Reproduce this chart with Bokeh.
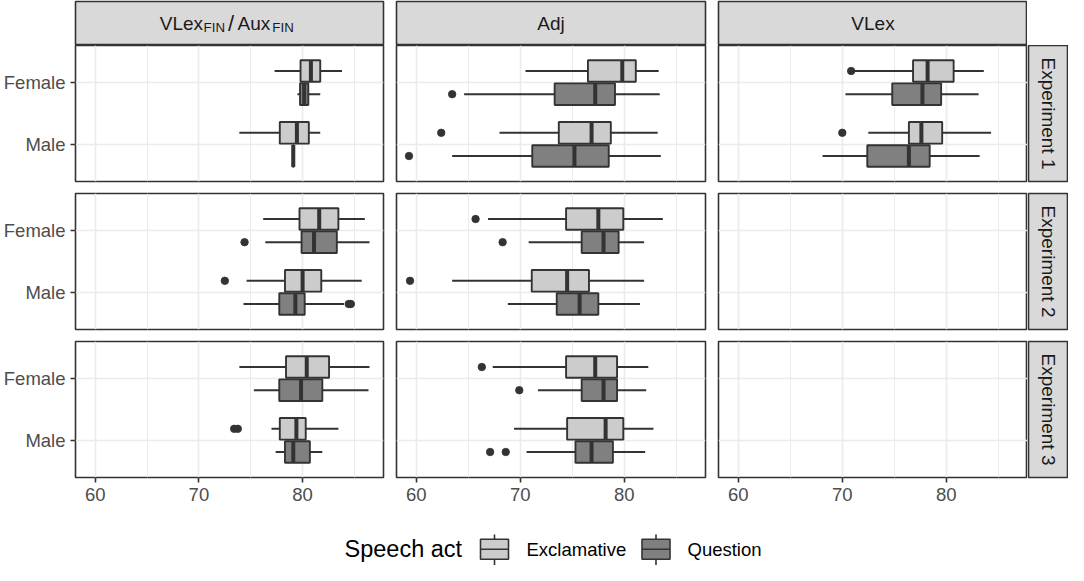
import math
from bokeh.plotting import figure
from bokeh.layouts import column
from bokeh.models import (Range1d, FactorRange, FixedTicker, CategoricalTicker,
                          ColumnDataSource, GridBox)
from bokeh.transform import dodge
from bokeh.core.properties import value
from bokeh.embed import file_html
from bokeh.resources import INLINE

# ---------------- data ----------------
conditions = ["VLexFIN/AuxFIN", "Adj", "VLex"]
experiments = ["Experiment 1", "Experiment 2", "Experiment 3"]
sexes = ["Female", "Male"]
acts = ["Exclamative", "Question"]
x_ticks = [60, 70, 80]
x_minor_ticks = [65, 75, 85]

box_condition = (["VLexFIN/AuxFIN"] * 4 + ["Adj"] * 4 + ["VLex"] * 4 +
                 ["VLexFIN/AuxFIN"] * 4 + ["Adj"] * 4 +
                 ["VLexFIN/AuxFIN"] * 4 + ["Adj"] * 4)
box_experiment = (["Experiment 1"] * 12 + ["Experiment 2"] * 8 + ["Experiment 3"] * 8)
box_sex = ["Female", "Female", "Male", "Male"] * 7
box_act = ["Exclamative", "Question"] * 14
box_lower = [77.3, 79.5, 73.9, 79.05,
             70.5, 64.6, 68.0, 63.45,
             71.0, 70.3, 72.5, 68.1,
             76.2, 76.4, 74.6, 74.3,
             66.9, 70.8, 63.45, 68.8,
             73.9, 75.3, 77.0, 77.4,
             67.35, 71.7, 69.4, 70.6]
box_q1 = [79.8, 79.75, 77.8, 79.05,
          76.5, 73.3, 73.7, 71.15,
          76.8, 74.8, 76.4, 72.4,
          79.7, 79.9, 78.3, 77.75,
          74.4, 75.9, 71.1, 73.5,
          78.4, 77.75, 77.8, 78.3,
          74.4, 75.9, 74.5, 75.3]
box_median = [80.8, 80.15, 79.45, 79.1,
              79.8, 77.2, 76.85, 75.2,
              78.2, 77.7, 77.6, 76.4,
              81.6, 81.1, 80.0, 79.3,
              77.5, 78.0, 74.5, 75.7,
              80.4, 79.85, 79.4, 79.1,
              77.2, 78.0, 78.2, 76.85]
box_q3 = [81.7, 80.55, 80.6, 79.15,
          81.1, 79.1, 78.7, 78.5,
          80.7, 79.5, 79.6, 78.4,
          83.45, 83.3, 81.8, 80.2,
          79.9, 79.45, 76.6, 77.5,
          82.55, 81.9, 80.3, 80.7,
          79.3, 79.3, 79.9, 78.9]
box_upper = [83.8, 81.7, 81.7, 79.15,
             83.3, 83.4, 83.2, 83.5,
             83.6, 83.1, 84.3, 83.2,
             86.0, 86.45, 85.7, 84.0,
             83.7, 81.9, 81.9, 81.5,
             86.45, 86.35, 83.45, 81.9,
             82.3, 82.1, 82.8, 82.0]

out_condition = ["Adj", "Adj", "Adj", "VLex", "VLex",
                 "VLexFIN/AuxFIN", "VLexFIN/AuxFIN", "VLexFIN/AuxFIN", "VLexFIN/AuxFIN",
                 "Adj", "Adj", "Adj",
                 "VLexFIN/AuxFIN", "VLexFIN/AuxFIN", "Adj", "Adj", "Adj", "Adj"]
out_experiment = ["Experiment 1"] * 5 + ["Experiment 2"] * 7 + ["Experiment 3"] * 6
out_sex = ["Female", "Male", "Male", "Female", "Male",
           "Female", "Male", "Male", "Male",
           "Female", "Female", "Male",
           "Male", "Male", "Female", "Female", "Male", "Male"]
out_act = ["Question", "Exclamative", "Question", "Exclamative", "Exclamative",
           "Question", "Exclamative", "Question", "Question",
           "Exclamative", "Question", "Exclamative",
           "Exclamative", "Exclamative", "Exclamative", "Question", "Question", "Question"]
out_value = [63.45, 62.4, 59.3, 70.85, 70.0,
             74.4, 72.5, 84.45, 84.65,
             65.7, 68.3, 59.4,
             73.4, 73.75, 66.3, 69.9, 67.1, 68.6]

# ---------------- style ----------------
FONT = "Liberation Sans"
FILL = {"Exclamative": "#cccccc", "Question": "#808080"}
OFFSET = {"Exclamative": 0.1875, "Question": -0.1875}
EDGE = "#333333"
GRID = "#ebebeb"
X0, X1 = 58.1, 87.8

col_w = [389, 322, 316, 41]
col_bl = [74, 7, 7, 1]
col_br = [6, 6, 0, 1]
row_h = [142, 148, 176]
row_bt = [0, 6, 6]
row_bb = [6, 6, 34]
STRIP_H = 45
LEG_H = 54
TOTAL_W = sum(col_w)


def base_fig(width, height, bl, br, bt, bb, xr, yr, xloc=None, yloc=None):
    p = figure(width=width, height=height, x_range=xr, y_range=yr,
               x_axis_location=xloc, y_axis_location=yloc,
               output_backend="svg", toolbar_location=None, tools="",
               min_border_left=bl, min_border_right=br,
               min_border_top=bt, min_border_bottom=bb)
    p.background_fill_color = "white"
    p.border_fill_color = "white"
    return p


def make_panel(ci, ei):
    cond = conditions[ci]
    exp = experiments[ei]
    yr = FactorRange(factors=["Male", "Female"], range_padding=0.1,
                     range_padding_units="absolute")
    p = base_fig(col_w[ci], row_h[ei], col_bl[ci], col_br[ci], row_bt[ei], row_bb[ei],
                 Range1d(X0, X1), yr,
                 xloc="below" if ei == 2 else None,
                 yloc="left" if ci == 0 else None)
    p.outline_line_color = EDGE
    p.outline_line_width = 1.6
    p.xgrid.ticker = FixedTicker(ticks=x_ticks, minor_ticks=x_minor_ticks)
    p.xgrid.grid_line_color = GRID
    p.xgrid.grid_line_width = 1.6
    p.xgrid.minor_grid_line_color = GRID
    p.xgrid.minor_grid_line_width = 1.0
    p.ygrid.ticker = CategoricalTicker()
    p.ygrid.grid_line_color = GRID
    p.ygrid.grid_line_width = 1.6
    for ax in list(p.xaxis) + list(p.yaxis):
        ax.axis_line_color = None
        ax.major_label_text_font = FONT
        ax.major_label_text_font_size = "18.5px"
        ax.major_label_text_color = "#4d4d4d"
        ax.major_tick_line_color = EDGE
        ax.major_tick_line_width = 1.6
        ax.major_tick_out = 5
        ax.major_tick_in = 0
        ax.minor_tick_out = 0
        ax.minor_tick_in = 0
        ax.major_label_standoff = 5
    if ei == 2:
        p.xaxis.ticker = FixedTicker(ticks=x_ticks)

    for act in acts:
        off = OFFSET[act]
        idx = [i for i in range(len(box_condition))
               if box_condition[i] == cond and box_experiment[i] == exp and box_act[i] == act]
        if idx:
            src = ColumnDataSource(dict(
                sex=[box_sex[i] for i in idx],
                lo=[box_lower[i] for i in idx],
                q1=[box_q1[i] for i in idx],
                med=[box_median[i] for i in idx],
                q3=[box_q3[i] for i in idx],
                hi=[box_upper[i] for i in idx],
            ))
            yc = dodge("sex", off, range=yr)
            p.segment(x0="lo", x1="q1", y0=yc, y1=yc, line_color=EDGE,
                      line_width=1.9, source=src)
            p.segment(x0="q3", x1="hi", y0=yc, y1=yc, line_color=EDGE,
                      line_width=1.9, source=src)
            p.hbar(y=yc, height=0.35, left="q1", right="q3", fill_color=FILL[act],
                   line_color=EDGE, line_width=1.9, source=src)
            p.segment(x0="med", x1="med",
                      y0=dodge("sex", off - 0.175, range=yr),
                      y1=dodge("sex", off + 0.175, range=yr),
                      line_color=EDGE, line_width=4, source=src)
        oidx = [i for i in range(len(out_condition))
                if out_condition[i] == cond and out_experiment[i] == exp and out_act[i] == act]
        if oidx:
            osrc = ColumnDataSource(dict(
                sex=[out_sex[i] for i in oidx],
                v=[out_value[i] for i in oidx],
            ))
            p.scatter(x="v", y=dodge("sex", off, range=yr), size=7.5, marker="circle",
                      fill_color=EDGE, line_color=EDGE, line_width=0.8, source=osrc)
    return p


def strip_fig(width, height, bl, br, bt, bb, xr, yr):
    s = base_fig(width, height, bl, br, bt, bb, xr, yr)
    s.grid.visible = False
    s.background_fill_color = "#d9d9d9"
    s.outline_line_color = EDGE
    s.outline_line_width = 1.6
    return s


children = []

# top strips
for ci, cond in enumerate(conditions):
    fw = col_w[ci] - col_bl[ci] - col_br[ci]
    fh = STRIP_H - 1
    s = strip_fig(col_w[ci], STRIP_H, col_bl[ci], col_br[ci], 1, 0,
                  Range1d(0, fw), Range1d(0, fh))
    cx = fw / 2
    cy = fh / 2
    if cond == "VLexFIN/AuxFIN":
        s.text(x=[cx - 70, cx + 8], y=[cy, cy], text=["VLex", "Aux"],
               text_font=value(FONT), text_font_size="19px", text_color="#1a1a1a",
               text_align="left", text_baseline="middle")
        s.text(x=[cx + 1.5], y=[cy], text=["/"],
               text_font=value(FONT), text_font_size="22px", text_color="#1a1a1a",
               text_align="center", text_baseline="middle")
        s.text(x=[cx - 26, cx + 43], y=[cy - 4, cy - 4], text=["FIN", "FIN"],
               text_font=value(FONT), text_font_size="13.3px", text_color="#1a1a1a",
               text_align="left", text_baseline="middle")
    else:
        s.text(x=[cx], y=[cy], text=[cond], text_font=value(FONT),
               text_font_size="19px", text_color="#1a1a1a",
               text_align="center", text_baseline="middle")
    children.append((s, 0, ci))

# panels and right strips
for ei, exp in enumerate(experiments):
    for ci in range(3):
        children.append((make_panel(ci, ei), ei + 1, ci))
    r = strip_fig(col_w[3], row_h[ei], col_bl[3], col_br[3], row_bt[ei], row_bb[ei],
                  Range1d(0, 1), Range1d(0, 1))
    r.text(x=[0.5], y=[0.5], text=[exp], angle=-math.pi / 2, text_font=value(FONT),
           text_font_size="19px", text_color="#1a1a1a",
           text_align="center", text_baseline="middle")
    children.append((r, ei + 1, 3))

grid = GridBox(children=children, spacing=0)

# legend (own figure, below the grid)
leg = base_fig(TOTAL_W, LEG_H, 0, 0, 0, 0, Range1d(0, TOTAL_W), Range1d(0, LEG_H))
leg.grid.visible = False
leg.outline_line_color = None
LEG_Y = 16.3
leg.text(x=[344], y=[LEG_Y], text=["Speech act"], text_font=value(FONT),
         text_font_size="23.5px", text_color="black",
         text_align="left", text_baseline="middle")
key_centers = [494, 655.5]
label_x = [526, 687]
for act, kc, lx in zip(acts, key_centers, label_x):
    leg.segment(x0=[kc], x1=[kc], y0=[0], y1=[31], line_color=EDGE, line_width=1.6)
    leg.quad(left=[kc - 14], right=[kc + 14], bottom=[6.3], top=[26.3],
             fill_color=FILL[act], line_color=EDGE, line_width=1.6)
    leg.segment(x0=[kc - 14], x1=[kc + 14], y0=[LEG_Y], y1=[LEG_Y],
                line_color=EDGE, line_width=1.6)
    leg.text(x=[lx], y=[LEG_Y], text=[act], text_font=value(FONT),
             text_font_size="18.5px", text_color="black",
             text_align="left", text_baseline="middle")

layout = column(grid, leg, spacing=0)

open("out.html", "w").write(file_html(layout, INLINE))
